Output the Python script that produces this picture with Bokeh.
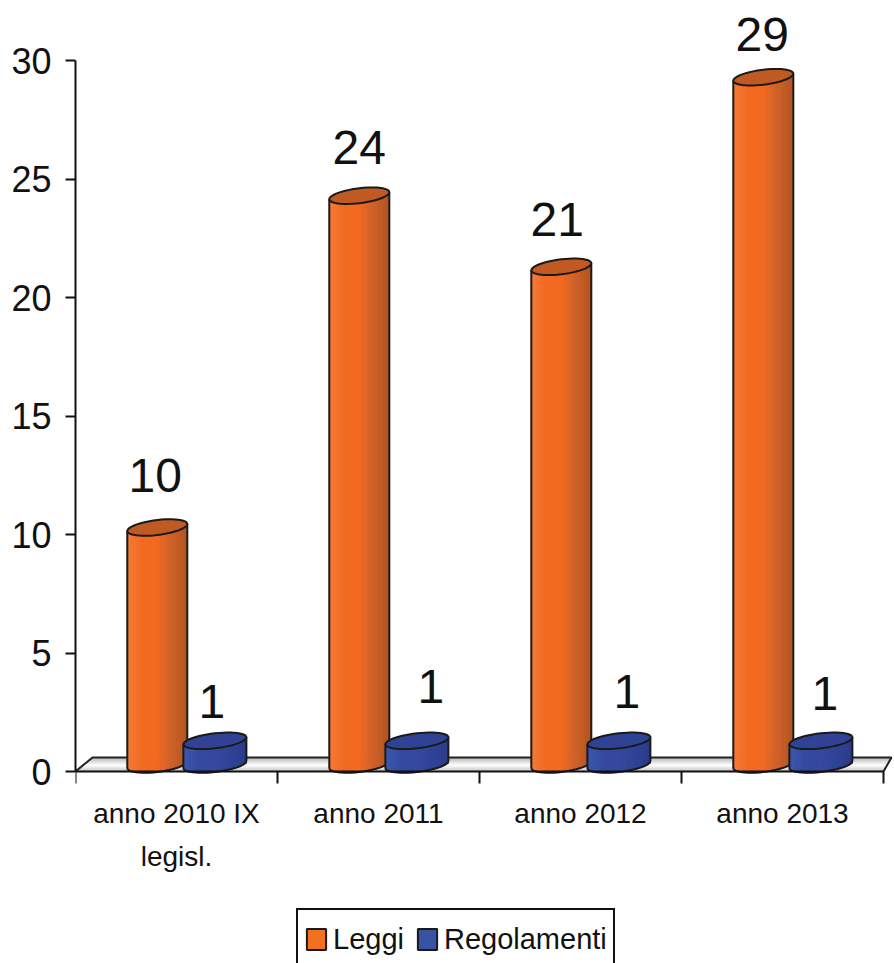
from bokeh.plotting import figure
from bokeh.models import Range1d, FixedTicker, Legend, LegendItem
from bokeh.core.properties import value
from bokeh.embed import file_html
from bokeh.resources import INLINE
import math

categories = ["anno 2010 IX\nlegisl.", "anno 2011", "anno 2012", "anno 2013"]
leggi = [10, 24, 21, 29]
regolamenti = [1, 1, 1, 1]
y_ticks = [0, 5, 10, 15, 20, 25, 30]
series_names = ["Leggi", "Regolamenti"]

# style
FONT = "Liberation Sans"
PXX = 1 / 202.0      # data units per pixel on x
PXY = 30 / 711.0     # data units per pixel on y
OR = ["#F57A35", "#F26A20", "#F26A20", "#D0602A", "#B5551F"]
BL = ["#3B57AB", "#34499F", "#34499F", "#2F4497", "#2A3B87"]

def hex2rgb(h):
    return [int(h[i:i + 2], 16) for i in (1, 3, 5)]

def ramp(stops, f):
    pos = f * (len(stops) - 1)
    i = min(int(pos), len(stops) - 2)
    t = pos - i
    a, b = hex2rgb(stops[i]), hex2rgb(stops[i + 1])
    return "#%02x%02x%02x" % tuple(round(a[k] + (b[k] - a[k]) * t) for k in range(3))

x_end = (894 - 75) * PXX
y_end = 771 * PXY
y_start = -(963 - 771) * PXY

p = figure(width=894, height=963, output_backend="svg", toolbar_location=None,
           x_range=Range1d(0, x_end), y_range=Range1d(y_start, y_end),
           min_border_left=75, min_border_right=0, min_border_top=0, min_border_bottom=0,
           outline_line_color=None, background_fill_color="white", border_fill_color="white")
p.grid.visible = False

# y axis
p.yaxis.ticker = FixedTicker(ticks=y_ticks)
p.yaxis.bounds = (0, 30)
p.yaxis.axis_line_color = "#111111"
p.yaxis.axis_line_width = 2
p.yaxis.major_tick_line_color = "#111111"
p.yaxis.major_tick_line_width = 2
p.yaxis.major_tick_out = 10
p.yaxis.major_tick_in = 0
p.yaxis.minor_tick_line_color = None
p.yaxis.major_label_standoff = 14
p.yaxis.major_label_text_font = FONT
p.yaxis.major_label_text_font_size = "36px"
p.yaxis.major_label_text_color = "#111111"

# x axis: labels on group centres, separators as minor ticks
n = len(categories)
centres = [i + 0.5 for i in range(n)]
p.xaxis.fixed_location = 0
p.xaxis.ticker = FixedTicker(ticks=centres, minor_ticks=list(range(n + 1)))
p.xaxis.major_label_overrides = {c: lab for c, lab in zip(centres, categories)}
p.xaxis.bounds = (0, n)
p.xaxis.axis_line_color = "#111111"
p.xaxis.axis_line_width = 2
p.xaxis.major_tick_line_color = None
p.xaxis.minor_tick_line_color = "#111111"
p.xaxis.minor_tick_line_width = 2
p.xaxis.minor_tick_out = 12
p.xaxis.minor_tick_in = 0
p.xaxis.major_tick_out = 0
p.xaxis.major_tick_in = 0
p.xaxis.major_label_standoff = 14
p.xaxis.major_label_text_font = FONT
p.xaxis.major_label_text_font_size = "28px"
p.xaxis.major_label_text_color = "#111111"
p.xaxis.major_label_text_line_height = 1.4

# floor
FH = 14 * PXY
SK = 17 * PXX
FR = n + 8 * PXX
rows = 14
xs, ys, cols = [], [], []
for r in range(rows):
    f0, f1 = r / rows, (r + 1) / rows
    xs.append([SK * f0, n + (FR - n) * f0, n + (FR - n) * f1, SK * f1])
    ys.append([FH * f0, FH * f0, FH * f1, FH * f1])
    c = abs(f0 - 0.45) / 0.55
    g = round(255 - 75 * c)
    cols.append("#%02x%02x%02x" % (g, g, g))
p.patches(xs, ys, fill_color=cols, line_color=cols, line_width=1)
p.line([0, SK, FR, n], [0, FH, FH, 0], line_color="#222222", line_width=2)

def cylinder(cx, val, half_px, stops, top_col):
    a = half_px * PXX
    b = 7.5 * PXY
    rise = 3.5 * PXY
    base = 7 * PXY
    top = val + base
    strips = 24
    L, R, T, B, C = [], [], [], [], []
    for s in range(strips):
        x0, x1 = -1 + 2 * s / strips, -1 + 2 * (s + 1) / strips
        m = (x0 + x1) / 2
        L.append(cx + a * x0)
        R.append(cx + a * x1)
        T.append(top + rise * m)
        B.append(base + rise * m - b * math.sqrt(1 - m * m))
        C.append(ramp(stops, s / (strips - 1)))
    p.quad(left=L, right=R, top=T, bottom=B, fill_color=C, line_color=C, line_width=1)
    th = [2 * math.pi * k / 48 for k in range(49)]
    lowx = [cx + a * math.cos(t) for t in th[24:]]
    lowy = [base + rise * math.cos(t) + b * math.sin(t) for t in th[24:]]
    p.line(lowx, lowy, line_color="#1a1a1a", line_width=2)
    p.segment([cx - a, cx + a], [base - rise, base + rise], [cx - a, cx + a], [top - rise, top + rise],
              line_color="#1a1a1a", line_width=2)
    p.patch([cx + a * math.cos(t) for t in th],
            [top + rise * math.cos(t) + b * math.sin(t) for t in th],
            fill_color=top_col, line_color="#1a1a1a", line_width=2)

for i in range(n):
    cylinder(i + 0.405, leggi[i], 30, OR, "#C05A22")
    cylinder(i + 0.69, regolamenti[i], 31.5, BL, "#2F4296")

# value labels
lab_dy_o = [-59, -55, -54, -50]
lab_dx_o = [-2, 0, -4, -1]
lab_dy_b = [-46, -61, -56, -54]
lab_dx_b = [-3, 14, 8, 4]
for i in range(n):
    p.text([i + 0.405], [leggi[i]], text=[str(leggi[i])], text_font=value(FONT),
           text_font_size="48px", text_align="center", text_baseline="alphabetic",
           text_color="#111111", y_offset=lab_dy_o[i], x_offset=lab_dx_o[i])
    p.text([i + 0.69], [regolamenti[i]], text=[str(regolamenti[i])], text_font=value(FONT),
           text_font_size="48px", text_align="center", text_baseline="alphabetic",
           text_color="#111111", y_offset=lab_dy_b[i], x_offset=lab_dx_b[i])

# legend
nan = float("nan")
r1 = p.quad(left=[nan], right=[nan], top=[nan], bottom=[nan],
            fill_color="#F37021", line_color="#1a1a1a", line_width=2)
r2 = p.quad(left=[nan], right=[nan], top=[nan], bottom=[nan],
            fill_color="#3953A4", line_color="#1a1a1a", line_width=2)
legend = Legend(items=[LegendItem(label=series_names[0], renderers=[r1]),
                       LegendItem(label=series_names[1], renderers=[r2])],
                orientation="horizontal", location=(221, -7),
                padding=6, margin=0, spacing=11, label_standoff=5,
                glyph_width=24, glyph_height=26, label_height=46,
                label_text_font=FONT, label_text_font_size="29px", label_text_color="#111111",
                border_line_color="#111111", border_line_width=2, border_line_alpha=1,
                background_fill_alpha=1)
p.add_layout(legend, "center")

open("out.html", "w").write(file_html(p, INLINE))
